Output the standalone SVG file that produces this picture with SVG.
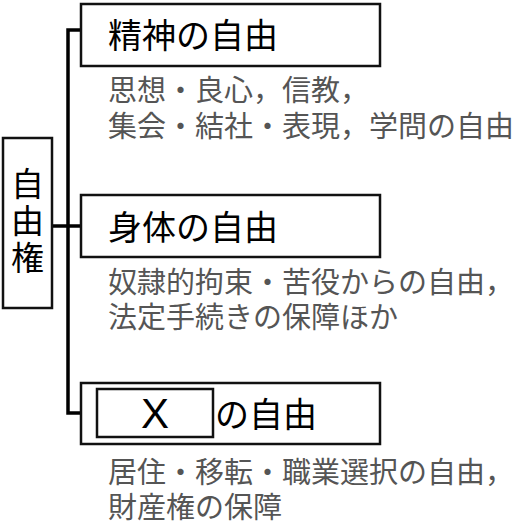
<svg xmlns="http://www.w3.org/2000/svg" width="528" height="528" viewBox="0 0 528 528">
<style>
.box{fill:#fff;stroke:#111;stroke-width:2.5}
.conn{fill:none;stroke:#000;stroke-width:3.5}
.t{font-family:"Noto Sans CJK JP","Noto Sans CJK SC",sans-serif;fill:#000}
.title{font-size:34px}
.sub{font-size:29px;fill:#555}
.x{font-family:"Liberation Sans",Arial,sans-serif;font-size:42px;fill:#000}
</style>
<rect width="528" height="528" fill="#fff"/>
<g id="connectors">
<polyline class="conn" points="81,30 68,30 68,413 81,413"/>
<line class="conn" x1="52" y1="226" x2="81" y2="226"/>
</g>
<g id="root">
<rect class="box" x="3" y="138" width="49" height="170"/>
<text class="t" x="27.5" y="167" font-size="33" writing-mode="vertical-rl" letter-spacing="4">自由権</text>
</g>
<g id="n1">
<rect class="box" x="81" y="4" width="299" height="62"/>
<text class="t title" x="108" y="48">精神の自由</text>
<text class="t sub"><tspan x="108" y="101">思想・良心，信教，</tspan><tspan x="108" y="137">集会・結社・表現，学問の自由</tspan></text>
</g>
<g id="n2">
<rect class="box" x="81" y="195" width="299" height="62"/>
<text class="t title" x="108" y="240">身体の自由</text>
<text class="t sub"><tspan x="108" y="293">奴隷的拘束・苦役からの自由，</tspan><tspan x="108" y="328">法定手続きの保障ほか</tspan></text>
</g>
<g id="n3">
<rect class="box" x="81" y="383" width="299" height="61"/>
<rect class="box" x="97" y="389" width="116" height="48"/>
<text class="x" x="155" y="428" text-anchor="middle">X</text>
<text class="t title" x="215" y="427">の自由</text>
<text class="t sub"><tspan x="108" y="483">居住・移転・職業選択の自由，</tspan><tspan x="108" y="518">財産権の保障</tspan></text>
</g>
</svg>
